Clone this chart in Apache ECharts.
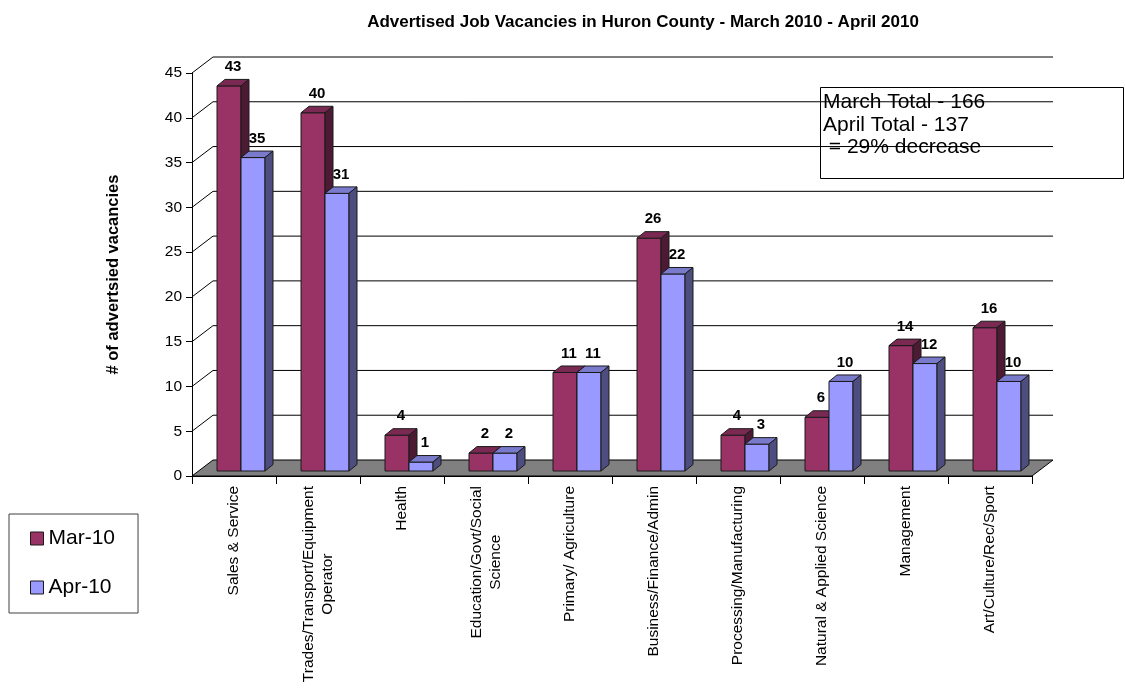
<!DOCTYPE html>
<html>
<head>
<meta charset="utf-8">
<script src="https://cdn.jsdelivr.net/npm/echarts@6/dist/echarts.min.js"></script>
<style>
  html, body { margin: 0; padding: 0; background: #fff; }
  #chart { width: 1125px; height: 689px; }
</style>
</head>
<body>
<div id="chart"></div>
<script>
// data
const categories = [
  'Sales & Service',
  'Trades/Transport/Equipment\nOperator',
  'Health',
  'Education/Govt/Social\nScience',
  'Primary/ Agriculture',
  'Business/Finance/Admin',
  'Processing/Manufacturing',
  'Natural & Applied Science',
  'Management',
  'Art/Culture/Rec/Sport'
];
const marValues = [43, 40, 4, 2, 11, 26, 4, 6, 14, 16];
const aprValues = [35, 31, 1, 2, 11, 22, 3, 10, 12, 10];
const yTicks = [0, 5, 10, 15, 20, 25, 30, 35, 40, 45];
const seriesNames = ['Mar-10', 'Apr-10'];
const noteLines = ['March Total - 166', 'April Total - 137', ' = 29% decrease'];

// fake 3d look
const DX = 21, DY = -16;      // depth of the plot box
const FX = 7, FY = -5;        // front plane of the bars
const BDX = 8, BDY = -6.5;    // depth of a bar
const BW = 24;                // width of one bar

const FONT = 'Arial, Liberation Sans, sans-serif';
const colors = {
  mar: { front: '#993366', top: '#7a2952', side: '#4d1a33' },
  apr: { front: '#9999ff', top: '#7a7acc', side: '#4d4d80' }
};
const edge = '#1a1a1a';

function renderWall(params, api) {
  const cs = params.coordSys;
  const v = api.value(1);
  const y = api.coord([0, v])[1];
  const x0 = cs.x, x1 = cs.x + cs.width;
  if (v === 0) {
    return {
      type: 'polygon',
      shape: { points: [[x0, y], [x1, y], [x1 + DX, y + DY], [x0 + DX, y + DY]] },
      style: { fill: '#808080', stroke: '#000', lineWidth: 1 }
    };
  }
  return {
    type: 'group',
    children: [
      {
        type: 'line',
        shape: { x1: x0 + DX, y1: y + DY, x2: x1 + DX, y2: y + DY },
        style: { stroke: '#000', lineWidth: 1 }
      },
      {
        type: 'line',
        shape: { x1: x0, y1: y, x2: x0 + DX, y2: y + DY },
        style: { stroke: '#000', lineWidth: 1 }
      }
    ]
  };
}

function barRenderer(shift, c) {
  return function (params, api) {
    const i = api.value(0);
    const v = api.value(1);
    const top = api.coord([i, v]);
    const base = api.coord([i, 0]);
    const x = top[0] + FX + shift;
    const yt = top[1] + FY;
    const yb = base[1] + FY;
    return {
      type: 'group',
      children: [
        {
          type: 'rect',
          shape: { x: x, y: yt, width: BW, height: yb - yt },
          style: { fill: c.front, stroke: edge, lineWidth: 1 }
        },
        {
          type: 'polygon',
          shape: { points: [[x, yt], [x + BW, yt], [x + BW + BDX, yt + BDY], [x + BDX, yt + BDY]] },
          style: { fill: c.top, stroke: edge, lineWidth: 1 }
        },
        {
          type: 'polygon',
          shape: { points: [[x + BW, yt], [x + BW + BDX, yt + BDY], [x + BW + BDX, yb + BDY], [x + BW, yb]] },
          style: { fill: c.side, stroke: edge, lineWidth: 1 }
        },
        {
          type: 'text',
          x: x + BW / 2 + BDX / 2,
          y: yt + BDY - 5,
          style: {
            text: String(v),
            fill: '#000',
            fontFamily: FONT,
            fontWeight: 'bold',
            fontSize: 15,
            align: 'center',
            verticalAlign: 'bottom'
          }
        }
      ]
    };
  };
}

const chart = echarts.init(document.getElementById('chart'));

chart.setOption({
  animation: false,
  textStyle: { fontFamily: FONT, color: '#000' },
  title: {
    text: 'Advertised Job Vacancies in Huron County - March 2010 - April 2010',
    left: 638,
    top: 9,
    textAlign: 'center',
    textStyle: { fontSize: 17, fontWeight: 'bold', color: '#000', fontFamily: FONT }
  },
  legend: {
    orient: 'vertical',
    left: 9,
    top: 514,
    padding: [14, 23, 15, 21],
    itemGap: 28,
    itemWidth: 13,
    itemHeight: 13,
    icon: 'rect',
    borderColor: '#404040',
    borderWidth: 1,
    textStyle: { fontSize: 21, color: '#000', fontFamily: FONT },
    data: [
      { name: seriesNames[0], itemStyle: { color: colors.mar.front, borderColor: edge, borderWidth: 1 } },
      { name: seriesNames[1], itemStyle: { color: colors.apr.front, borderColor: edge, borderWidth: 1 } }
    ]
  },
  grid: { left: 192, top: 73, width: 840, height: 403 },
  xAxis: {
    type: 'category',
    data: categories,
    axisLine: { lineStyle: { color: '#000' } },
    axisTick: { show: true, length: 8, interval: 0, lineStyle: { color: '#000' } },
    axisLabel: {
      interval: 0,
      rotate: 90,
      margin: 10,
      formatter: function (s) {
        return s.split('\n').map(function (l) { return '{c|' + l + '}'; }).join('\n');
      },
      rich: {
        c: { align: 'center', fontSize: 15.5, lineHeight: 19, color: '#000', fontFamily: FONT }
      }
    }
  },
  yAxis: {
    type: 'value',
    min: 0,
    max: 45,
    interval: 5,
    name: '# of advertsied vacancies',
    nameLocation: 'middle',
    nameRotate: 90,
    nameGap: 70,
    nameTextStyle: { fontSize: 16.5, fontWeight: 'bold', color: '#000', fontFamily: FONT },
    axisLine: { show: true, lineStyle: { color: '#000' } },
    axisTick: { show: true, length: 6, lineStyle: { color: '#000' } },
    axisLabel: { fontSize: 15.5, margin: 10, color: '#000' },
    splitLine: { show: false }
  },
  graphic: [
    {
      type: 'group',
      left: 820,
      top: 87,
      children: [
        {
          type: 'rect',
          shape: { x: 0.5, y: 0.5, width: 303, height: 91 },
          style: { fill: '#fff', stroke: '#000', lineWidth: 1 }
        }
      ].concat(noteLines.map(function (t, k) {
        return {
          type: 'text',
          x: 3,
          y: 15.5 + k * 22.5,
          style: {
            text: t,
            fill: '#000',
            fontSize: 21,
            fontFamily: FONT,
            verticalAlign: 'middle'
          }
        };
      }))
    }
  ],
  series: [
    {
      type: 'custom',
      name: 'wall',
      silent: true,
      renderItem: renderWall,
      data: yTicks.map(function (v) { return [0, v]; }),
      z: 1
    },
    {
      type: 'custom',
      name: seriesNames[0],
      itemStyle: { color: colors.mar.front },
      renderItem: barRenderer(-BW, colors.mar),
      data: marValues.map(function (v, i) { return [i, v]; }),
      z: 2
    },
    {
      type: 'custom',
      name: seriesNames[1],
      itemStyle: { color: colors.apr.front },
      renderItem: barRenderer(0, colors.apr),
      data: aprValues.map(function (v, i) { return [i, v]; }),
      z: 3
    }
  ]
});
</script>
</body>
</html>
